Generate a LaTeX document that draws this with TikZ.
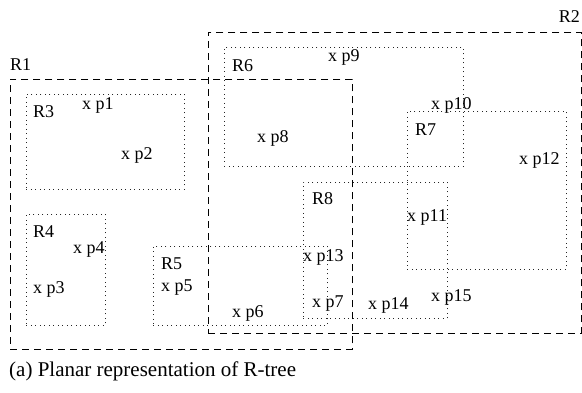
\documentclass[tikz,border=0pt]{standalone}
\usepackage{fontspec}
\setmainfont{Liberation Serif}
\begin{document}
\begin{tikzpicture}[x=1pt,y=-1pt,
  topbox/.style={draw=black, line width=0.9pt, dash pattern=on 7pt off 5pt,
    rectangle, inner sep=0pt, anchor=north west},
  leafbox/.style={draw=black!85, line width=0.9pt, dash pattern=on 1pt off 3.5pt,
    rectangle, inner sep=0pt, anchor=north west},
  lbl/.style={inner sep=0pt, anchor=west, font=\fontsize{18}{20}\selectfont},
  captiontext/.style={inner sep=0pt, anchor=base west, font=\fontsize{21}{24}\selectfont}]
\useasboundingbox (0,0) rectangle (582,393);

% top-level bounding rectangles
\node[topbox, minimum width=342, minimum height=270] (R1) at (10,79) {};
\node[topbox, minimum width=373, minimum height=301] (R2) at (208,32) {};

% leaf rectangles
\node[leafbox, minimum width=158, minimum height=95]  (R3) at (26,94) {};
\node[leafbox, minimum width=79,  minimum height=111] (R4) at (26,214) {};
\node[leafbox, minimum width=174, minimum height=79]  (R5) at (153,246) {};
\node[leafbox, minimum width=239, minimum height=119] (R6) at (224,47) {};
\node[leafbox, minimum width=159, minimum height=158] (R7) at (407,111) {};
\node[leafbox, minimum width=144, minimum height=136] (R8) at (303,182) {};

% rectangle names
\node[lbl] (tR1) at (10,65) {R1};
\node[lbl, anchor=east] (tR2) at (580,17) {R2};
\node[lbl] (tR3) at (33,112) {R3};
\node[lbl] (tR4) at (33,232) {R4};
\node[lbl] (tR5) at (161,264) {R5};
\node[lbl] (tR6) at (232,66) {R6};
\node[lbl] (tR7) at (415,130) {R7};
\node[lbl] (tR8) at (312,199) {R8};

% data points
\node[lbl] (p1)  at (82,105)  {x p1};
\node[lbl] (p2)  at (121,155) {x p2};
\node[lbl] (p3)  at (33,289)  {x p3};
\node[lbl] (p4)  at (73,249)  {x p4};
\node[lbl] (p5)  at (161,288) {x p5};
\node[lbl] (p6)  at (232,313) {x p6};
\node[lbl] (p7)  at (312,304) {x p7};
\node[lbl] (p8)  at (257,138) {x p8};
\node[lbl] (p9)  at (328,57)  {x p9};
\node[lbl] (p10) at (431,105) {x p10};
\node[lbl] (p11) at (407,217) {x p11};
\node[lbl] (p12) at (519,160) {x p12};
\node[lbl] (p13) at (303,257) {x p13};
\node[lbl] (p14) at (368,305) {x p14};
\node[lbl] (p15) at (431,297) {x p15};

% caption
\node[captiontext] (caption) at (9,377) {(a) Planar representation of R-tree};
\end{tikzpicture}
\end{document}
